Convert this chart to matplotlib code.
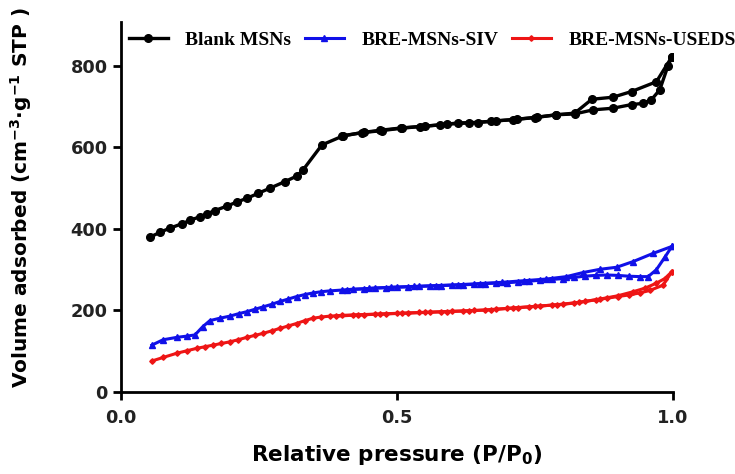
import matplotlib
matplotlib.use('Agg')
from matplotlib import pyplot as plt

# Blank MSNs, adsorption / desorption branches
blank_ads_x = [0.053, 0.071, 0.089, 0.111, 0.125, 0.143, 0.156, 0.170, 0.192, 0.210,
               0.228, 0.248, 0.270, 0.297, 0.319, 0.330, 0.364, 0.402, 0.436, 0.472,
               0.508, 0.542, 0.578, 0.611, 0.647, 0.680, 0.717, 0.753, 0.789, 0.822,
               0.855, 0.891, 0.925, 0.946, 0.961, 0.976, 0.991, 0.998]
blank_ads_y = [380, 392, 402, 413, 421, 430, 437, 445, 456, 466,
               475, 487, 500, 516, 530, 545, 606, 628, 636, 641,
               647, 651, 655, 660, 661, 665, 669, 674, 680, 682,
               692, 696, 705, 708, 717, 741, 800, 822]
blank_des_x = [0.998, 0.970, 0.925, 0.891, 0.853, 0.822, 0.789, 0.750, 0.710, 0.670,
               0.630, 0.590, 0.550, 0.510, 0.470, 0.440, 0.400]
blank_des_y = [822, 761, 737, 723, 718, 684, 680, 673, 668, 664,
               660, 657, 652, 648, 642, 637, 628]

# BRE-MSNs-SIV
siv_ads_x = [0.056, 0.076, 0.101, 0.119, 0.134, 0.148, 0.161, 0.179, 0.197, 0.213,
             0.228, 0.243, 0.258, 0.273, 0.288, 0.303, 0.318, 0.333, 0.348, 0.363,
             0.378, 0.40, 0.42, 0.44, 0.46, 0.48, 0.50, 0.52, 0.54, 0.56,
             0.58, 0.60, 0.62, 0.64, 0.66, 0.68, 0.70, 0.72, 0.74, 0.76,
             0.78, 0.80, 0.82, 0.84, 0.86, 0.88, 0.90, 0.92, 0.94, 0.955,
             0.970, 0.985, 0.998]
siv_ads_y = [115, 128, 134, 137, 140, 160, 175, 181, 186, 192,
             197, 203, 209, 215, 222, 228, 234, 239, 243, 246,
             248, 250, 252, 253, 255, 256, 257, 258, 259, 260,
             261, 262, 263, 264, 266, 267, 268, 270, 272, 274,
             276, 278, 281, 284, 286, 287, 286, 284, 283, 283,
             300, 330, 357]
siv_des_x = [0.998, 0.964, 0.928, 0.898, 0.868, 0.837, 0.807, 0.770, 0.730, 0.690,
             0.650, 0.610, 0.570, 0.530, 0.490, 0.450, 0.410]
siv_des_y = [357, 340, 320, 306, 301, 293, 283, 277, 273, 269,
             266, 263, 261, 259, 257, 254, 251]

# BRE-MSNs-USEDS
used_ads_x = [0.056, 0.077, 0.101, 0.119, 0.137, 0.152, 0.167, 0.182, 0.197, 0.212,
              0.228, 0.243, 0.258, 0.273, 0.288, 0.303, 0.318, 0.333, 0.348, 0.363,
              0.378, 0.40, 0.42, 0.44, 0.46, 0.48, 0.50, 0.52, 0.54, 0.56,
              0.58, 0.60, 0.62, 0.64, 0.66, 0.68, 0.70, 0.72, 0.74, 0.76,
              0.78, 0.80, 0.82, 0.84, 0.86, 0.88, 0.90, 0.92, 0.94, 0.958,
              0.982, 0.998]
used_ads_y = [76, 85, 95, 101, 107, 111, 115, 119, 123, 128,
              134, 139, 144, 150, 156, 162, 168, 175, 181, 184,
              186, 188, 189, 190, 191, 192, 193, 194, 195, 196,
              197, 198, 199, 200, 201, 203, 205, 207, 209, 211,
              213, 215, 218, 222, 226, 230, 234, 238, 243, 249,
              262, 295]
used_des_x = [0.998, 0.985, 0.970, 0.950, 0.928, 0.900, 0.868, 0.830, 0.790, 0.750,
              0.710, 0.670, 0.630, 0.590, 0.550, 0.510, 0.470, 0.430, 0.390]
used_des_y = [295, 278, 267, 255, 246, 236, 228, 220, 214, 210,
              206, 202, 199, 197, 195, 193, 191, 189, 186]

labels = ['Blank MSNs', 'BRE-MSNs-SIV', 'BRE-MSNs-USEDS']
colors = ['black', '#1010e8', '#ee1515']

plt.rcParams['font.family'] = 'DejaVu Sans'
plt.rcParams['mathtext.fontset'] = 'dejavusans'
plt.rcParams['mathtext.default'] = 'bf'

fig = plt.figure(figsize=(7.35, 4.74), dpi=100)
ax = fig.add_axes([0.1646, 0.173, 0.751, 0.781])

l1, = ax.plot(blank_ads_x, blank_ads_y, c=colors[0], lw=2.4, marker='o', ms=5.5)
ax.plot(blank_des_x, blank_des_y, c=colors[0], lw=2.4, marker='o', ms=5.5)
l2, = ax.plot(siv_ads_x, siv_ads_y, c=colors[1], lw=2.2, marker='^', ms=4.5)
ax.plot(siv_des_x, siv_des_y, c=colors[1], lw=2.2, marker='^', ms=4.5)
l3, = ax.plot(used_ads_x, used_ads_y, c=colors[2], lw=2.2, marker='D', ms=2.8)
ax.plot(used_des_x, used_des_y, c=colors[2], lw=2.2, marker='D', ms=2.8)

ax.set_xlim(0, 1.0)
ax.set_ylim(0, 908)
ax.set_xticks([0, 0.5, 1.0])
ax.set_xticklabels(['0.0', '0.5', '1.0'])
ax.set_yticks([0, 200, 400, 600, 800])
for s in ['top', 'right']:
    ax.spines[s].set_visible(False)
for s in ['left', 'bottom']:
    ax.spines[s].set_linewidth(2.0)
ax.tick_params(axis='both', which='major', labelsize=12.8, width=2.0, length=6,
               direction='out')
ax.tick_params(axis='x', pad=6)
for t in ax.get_xticklabels() + ax.get_yticklabels():
    t.set_fontweight('bold')
    t.set_color('#222222')

ax.set_xlabel('Relative pressure (P/P$_0$)', fontsize=15.5, fontweight='bold', labelpad=12)
ax.set_ylabel('Volume adsorbed (cm$^{-3}$$\\cdot$g$^{-1}$ STP )', fontsize=14.5,
              fontweight='bold')
ax.yaxis.set_label_coords(-0.158, 0.524)

fig.legend([l1, l2, l3], labels, loc='center left', bbox_to_anchor=(0.165, 0.915),
           ncol=3, frameon=False, handlelength=2.0, handletextpad=0.9,
           columnspacing=0.7, borderaxespad=0,
           prop={'family': 'Liberation Serif', 'weight': 'bold', 'size': 14})

fig.savefig('out.png', dpi=100)
